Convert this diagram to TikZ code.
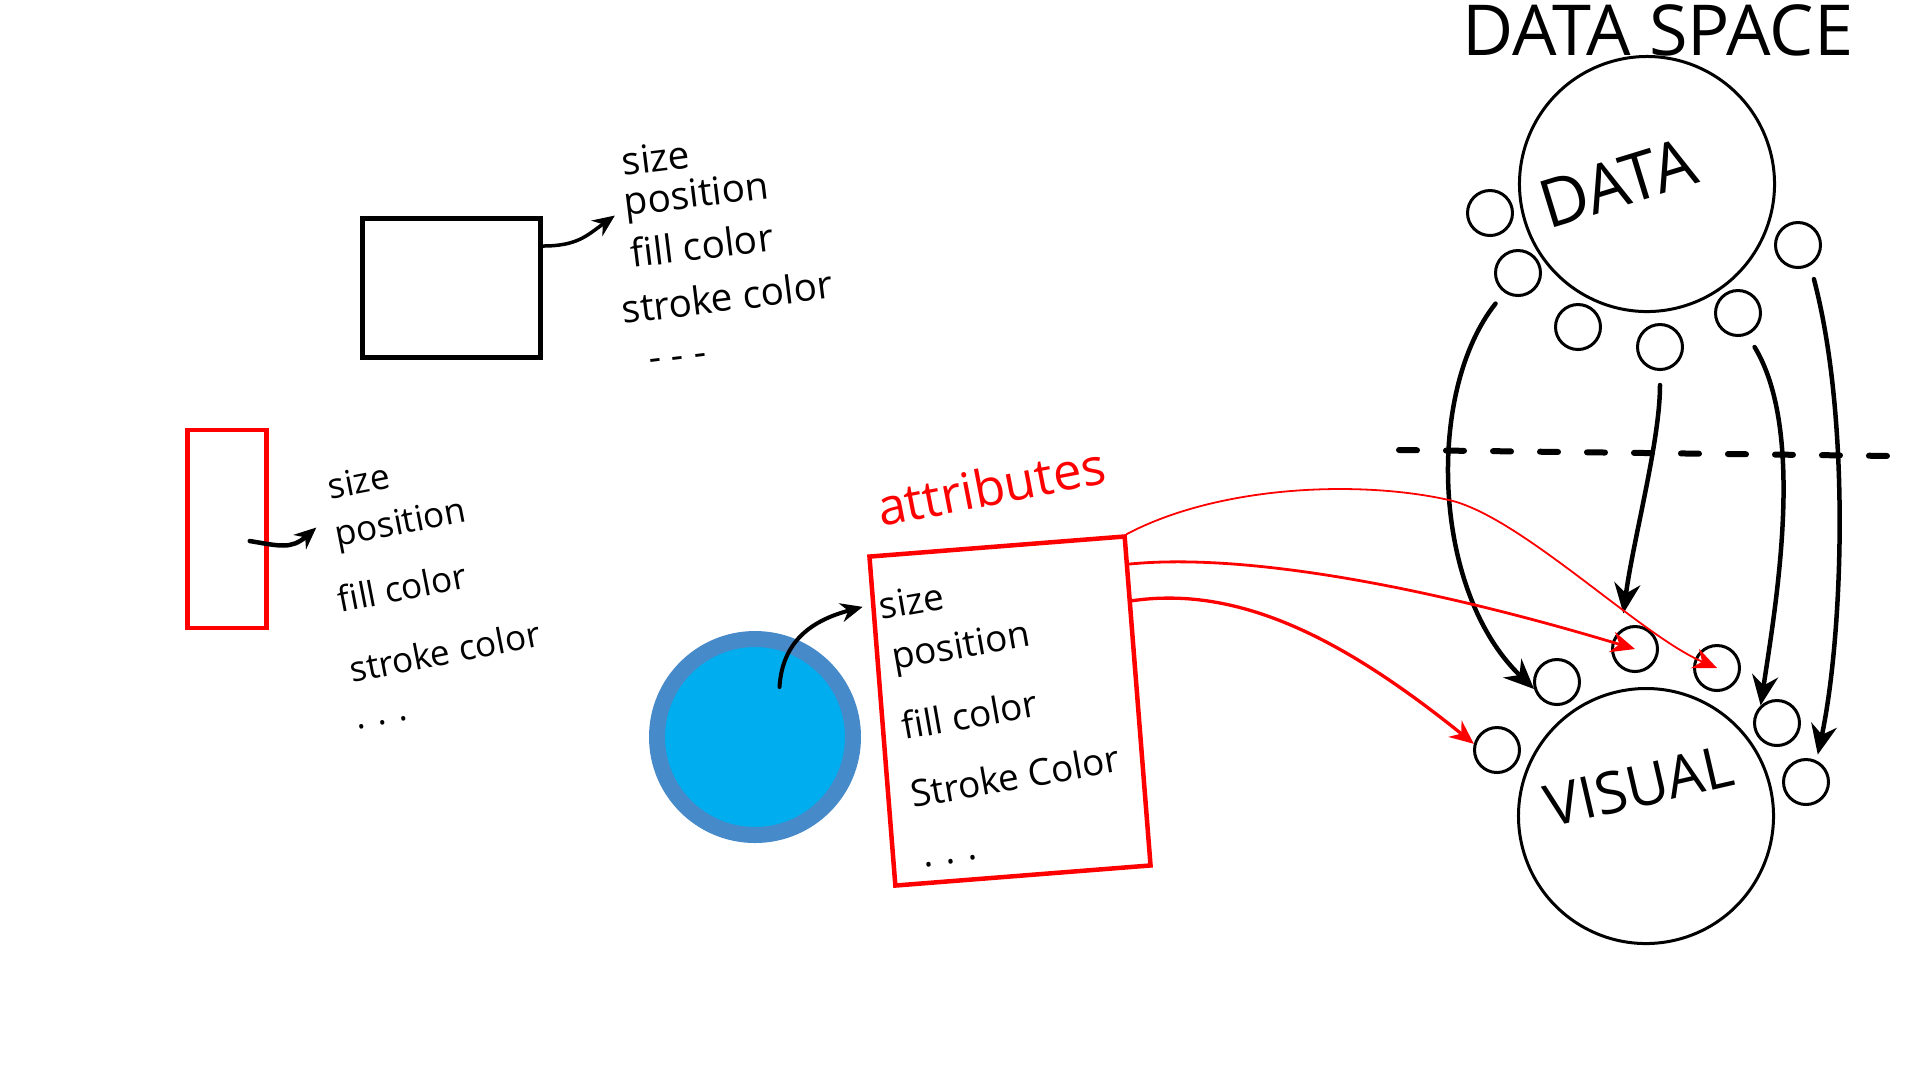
\documentclass[tikz,border=0pt]{standalone}
\usepackage{fontspec}
\setmainfont{Open Sans}
\usetikzlibrary{arrows.meta,positioning,calc}
\definecolor{penred}{RGB}{255,0,0}
\definecolor{ringblue}{RGB}{70,138,201}
\definecolor{dotblue}{RGB}{0,173,239}
\tikzset{
  hand/.style={anchor=base west,inner sep=0pt,font=\fontsize{11}{12}\selectfont},
  bigc/.style={draw,circle,line width=0.3mm,minimum size=25.5mm,inner sep=0pt},
  dot/.style={draw,circle,line width=0.3mm,minimum size=4.5mm,inner sep=0pt},
  ink/.style={-{Stealth[length=2.2mm,width=1.9mm]},line width=0.35mm,line cap=round},
  inkb/.style={-{Stealth[length=3mm,width=2.6mm]},line width=0.45mm,line cap=round,shorten <=1.4mm},
  redink/.style={-{Stealth[length=2.4mm,width=2.1mm]},draw=penred,line cap=round},
}
\begin{document}
\begin{tikzpicture}[x=0.1mm,y=-0.1mm]
  \useasboundingbox (0,0) rectangle (1920,1080);

  % ---------------- shapes and their attributes ----------------
  \node[draw,line width=0.5mm,minimum width=17.8mm,minimum height=13.9mm,inner sep=0] (rect) at (451,288) {};
  \foreach \n/\x/\y/\t in {1/623/176/size,2/625/216/position,3/632/268/fill color,4/623/324/stroke color,5/650/372/- - -}
    \node[hand,rotate=7] (top\n) at (\x,\y) {\t};
  \draw[ink] ([yshift=4.2mm]rect.east) .. controls +(35,0) and +(-28,20) .. ([xshift=-0.9mm,yshift=-0.9mm]top2.west);

  \node[draw=penred,line width=0.45mm,minimum width=7.9mm,minimum height=19.8mm,inner sep=0] (bar) at (227,529) {};
  \foreach \n/\x/\y/\t in {1/330/500/size,2/337/547/position,3/340/613/fill color,4/352/683/stroke color,5/357/730/{.\,\,.\,\,.}}
    \node[hand,font=\fontsize{10}{12}\selectfont,rotate=11] (left\n) at (\x,\y) {\t};
  \draw[ink,line width=0.45mm] ([xshift=-1.9mm,yshift=-1.2mm]bar.east) .. controls +(30,5) and +(-25,22) .. ([xshift=-1.9mm,yshift=1.1mm]left2.west);

  % ---------------- the mark and its attribute list ----------------
  \node[circle,draw=ringblue,fill=dotblue,line width=1.6mm,minimum size=19.6mm,inner sep=0] (blob) at (755,737) {};
  \node[draw=penred,line width=0.45mm,rotate=4.5,minimum width=25.6mm,minimum height=33mm,inner sep=0] (attrbox) at (1010,711) {};
  \node[text=penred,font=\fontsize{14.5}{16}\selectfont,rotate=11] (attrtitle) at (991,486) {attributes};
  \foreach \n/\x/\y/\t in {1/881/620/size,2/894/670/position,3/904/740/fill color,4/913/808/Stroke Color,5/924/868/{.\,\,.\,\,.}}
    \node[hand,font=\fontsize{10.5}{12}\selectfont,rotate=10] (box\n) at (\x,\y) {\t};
  \draw[ink,line width=0.4mm] ([xshift=2.45mm,yshift=5mm]blob.center) .. controls +(3,-50) and +(-45,12) .. ([xshift=-1.6mm]box1.west);

  % ---------------- data space / visual space ----------------
  \node[font=\fontsize{20}{22}\selectfont] (title) at (1658,30) {DATA SPACE};
  \node[bigc,rotate=17,font=\fontsize{19}{20}\selectfont] (data) at (1647,184)
    {\raisebox{-1.45mm}[0pt][0pt]{DATA}\hspace*{5.5mm}};
  \foreach \n/\x/\y in {1/1490/213,2/1518/273,3/1578/327,4/1660/347,5/1738/313,6/1798/245}
    \node[dot] (d\n) at (\x,\y) {};

  \node[bigc,rotate=13,font=\fontsize{16.5}{18}\selectfont] (visual) at (1646,816)
    {\raisebox{1mm}[0pt][0pt]{VISUAL}};
  \foreach \n/\x/\y in {1/1497/750,2/1557/682,3/1635/649,4/1717/668,5/1777/723,6/1806/782}
    \node[dot] (v\n) at (\x,\y) {};

  \coordinate (sepL) at (1399,450);
  \coordinate (sepR) at (1893,456);
  \draw[line width=0.6mm,line cap=round,dash pattern=on 1.8mm off 2.9mm] (sepL) -- (sepR);

  % data attributes mapped down onto the visual ones
  \draw[inkb] (d2.235) .. controls +(-78,98) and +(-103,-99) .. (v2.197);
  \draw[inkb,shorten >=1.6mm] (d4.south) .. controls +(0,70) and +(12,-90) .. (v3.125);
  \draw[inkb] (d5.293) .. controls +(58,96) and +(16,-106) .. (v5.133);
  \draw[inkb,shorten >=0.6mm] (d6.301) .. controls +(41,156) and +(26,-122) .. (v6.64);

  % mark attributes mapped onto the visual ones
  \draw[redink,line width=0.18mm] (attrbox.north east) .. controls (1220,485) and (1360,480) .. (1449,500)
    .. controls (1520,516) and (1640,635) .. (v4.center);
  \draw[redink,line width=0.28mm] ($(attrbox.north east)!0.09!(attrbox.south east)$) .. controls (1250,552) and (1440,590) .. (v3.center);
  \draw[redink,line width=0.33mm] ($(attrbox.north east)!0.2!(attrbox.south east)$) .. controls (1240,585) and (1345,640) .. (v1.165);
\end{tikzpicture}
\end{document}
